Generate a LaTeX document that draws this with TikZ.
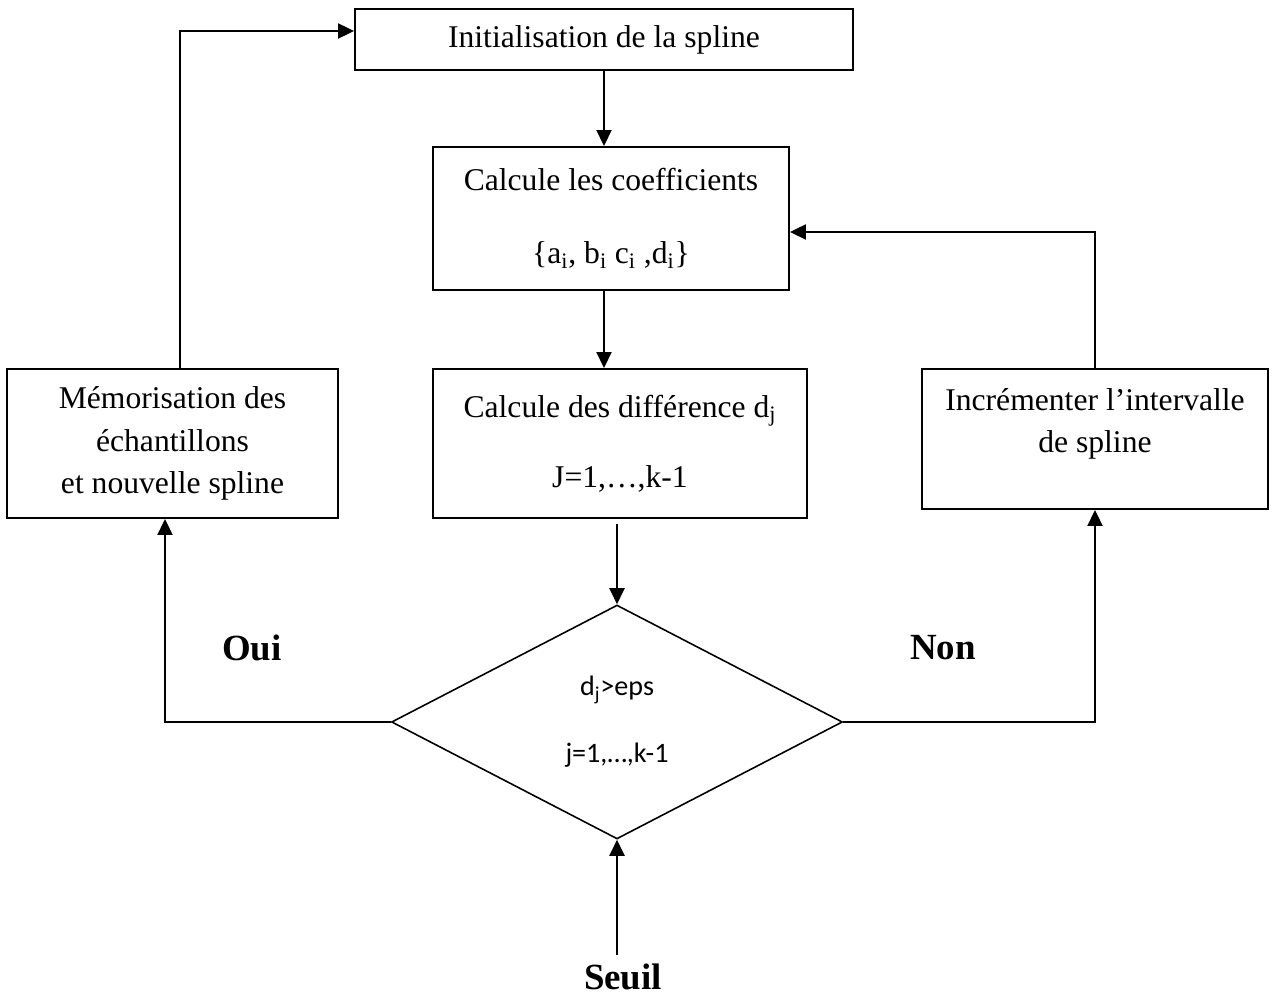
\documentclass[tikz,border=0pt]{standalone}
\usepackage{fontspec}
\setmainfont{Liberation Serif}
\newfontfamily\calfont{Carlito}
\usetikzlibrary{shapes.geometric,arrows.meta}

\begin{document}
\begin{tikzpicture}[x=0.02cm,y=-0.02cm,
  box/.style={draw,line width=1.1pt,inner sep=0pt,align=center,
    font=\fontsize{18}{24}\selectfont},
  decision/.style={draw,diamond,line width=0.9pt,inner sep=0pt,align=center,
    minimum width=9.02cm,minimum height=4.68cm,
    font=\calfont\fontsize{16}{18}\selectfont},
  arr/.style={line width=1.1pt,-{Triangle[length=0.32cm,width=0.3cm]}},
  answer/.style={font=\bfseries\fontsize{21}{24}\selectfont}]
  \useasboundingbox (0,0) rectangle (1272,999);
  % blocs
  \node[box,minimum width=9.96cm,minimum height=1.22cm] (init) at (604,39.5)
    {Initialisation de la spline};
  \node[box,minimum width=7.12cm,minimum height=2.86cm] (coef) at (611,218.5)
    {Calcule les coefficients\\[17.4pt]
     \{a\textsubscript{i}, b\textsubscript{i} c\textsubscript{i} ,d\textsubscript{i}\}};
  \node[box,minimum width=7.48cm,minimum height=2.98cm] (diff) at (620,443.5)
    {Calcule des différence d\textsubscript{j}\\[15.7pt]J=1,…,k-1};
  \node[box,minimum width=6.62cm,minimum height=2.98cm] (memo) at (172.5,443.5)
    {Mémorisation des\\échantillons\\et nouvelle spline};
  \node[box,minimum width=6.92cm,minimum height=2.8cm] (incr) at (1095,439)
    {Incrémenter l’intervalle\\de spline\\[-10pt]\strut};
  \node[decision] (dec) at (617,722)
    {d\textsubscript{j}>eps\\[20pt]j=1,…,k-1};
  \node[answer] (oui) at (252,648) {Oui};
  \node[answer] (non) at (943,648) {Non};
  \node[answer] (seuil) at (623,977) {Seuil};
  % fleches
  \draw[arr] (init.south) -- (init.south |- coef.north);
  \draw[arr] (init.south |- coef.south) -- (init.south |- diff.north);
  \draw[arr,shorten <=0.1cm] (dec.north |- diff.south) -- (dec.north);
  \draw[arr,shorten <=0.05cm] (dec.south |- seuil.north) -- (dec.south);
  \draw[arr] (dec.west) -| ([xshift=-0.15cm]memo.south);
  \draw[arr] (dec.east) -| (incr.south);
  \draw[arr] (incr.north) |- ([yshift=-0.27cm]coef.east);
  \draw[arr] ([xshift=0.15cm]memo.north) |- ([yshift=0.17cm]init.west);
\end{tikzpicture}
\end{document}
